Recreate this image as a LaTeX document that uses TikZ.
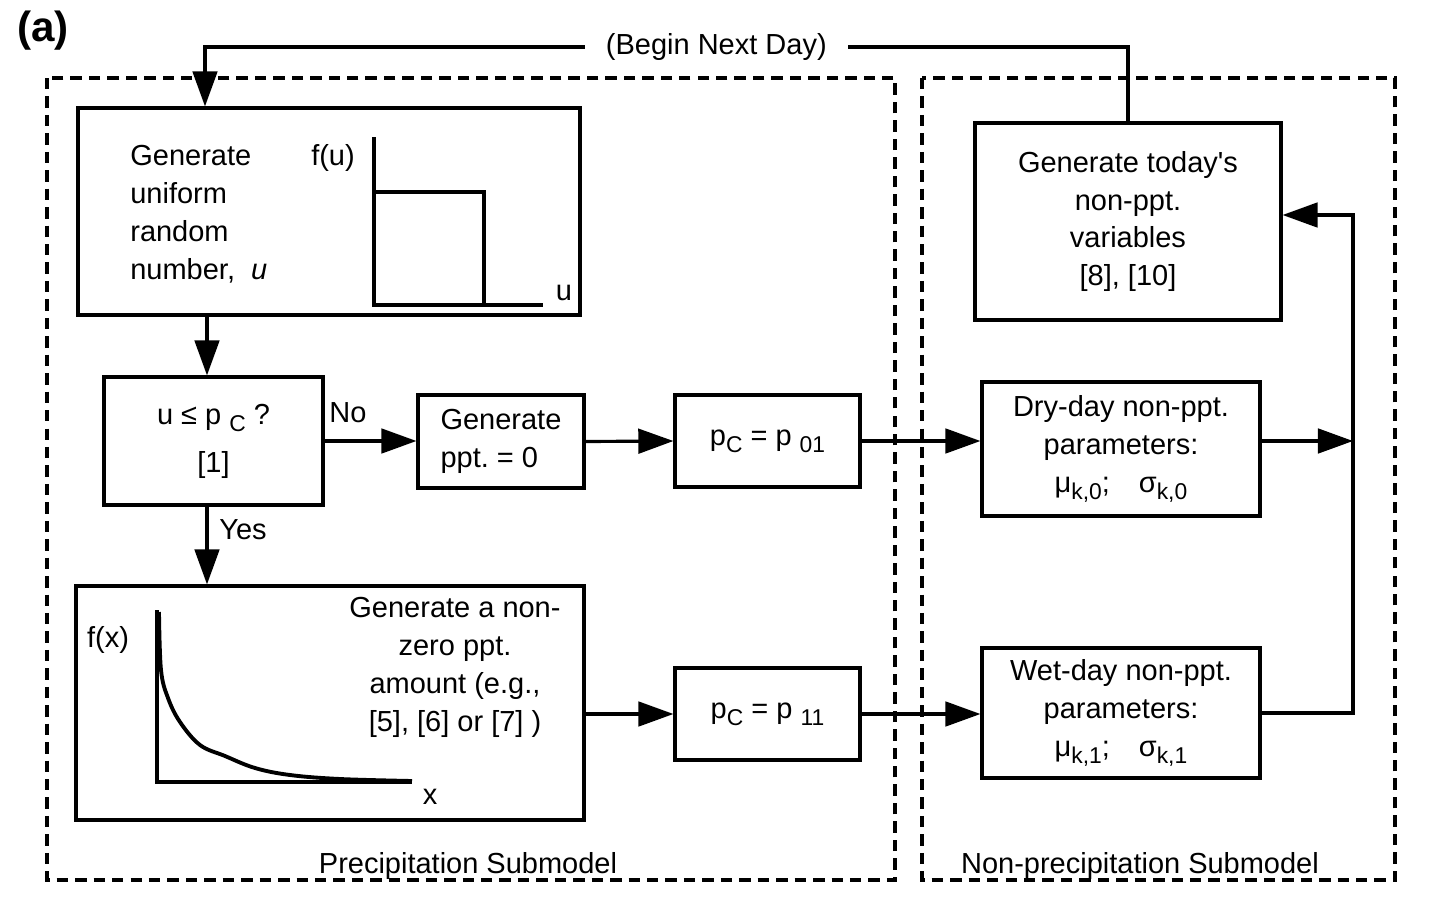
\documentclass[tikz,border=0pt]{standalone}
\usepackage{fontspec}
\setmainfont{Liberation Sans}
\usetikzlibrary{arrows.meta}
\newcommand{\fsz}{\fontsize{16.5pt}{21.6pt}\selectfont}
\newcommand{\lowidx}[1]{\raisebox{-4pt}{\fontsize{13pt}{13pt}\selectfont #1}}
\tikzset{
  blk/.style={draw, line width=1.8pt, inner sep=0pt, align=center, font=\fsz},
  lbl/.style={inner sep=0pt, font=\fsz},
  submodel/.style={line width=1.8pt, dash pattern=on 6.5pt off 4pt},
  link/.style={line width=1.8pt},
  flow/.style={line width=1.8pt, -{Triangle[length=20pt,width=14pt]}},
}
\begin{document}
\begin{tikzpicture}[x=0.02cm, y=-0.02cm]
  \useasboundingbox (0,0) rectangle (1438,903);
  % submodel frames
  \draw[submodel] (47,78) rectangle (895,880);
  \draw[submodel] (922,78) rectangle (1395,880);
  \node[lbl, anchor=base] (ptitle) at (468,873) {Precipitation Submodel};
  \node[lbl, anchor=base] (ntitle) at (1140,873) {Non-precipitation Submodel};
  \node[lbl, font=\bfseries\fontsize{24pt}{24pt}\selectfont] (tag) at (43,31) {(a)};
  % precipitation side
  \node[blk, minimum width=10.04cm, minimum height=4.14cm] (unif) at (329,211.5) {};
  \node[lbl, align=left, anchor=west] (uniftxt) at (130,214) {Generate\\uniform\\random\\number,\ \ \textit{u}};
  \node[lbl] (fu) at (333,158) {f(u)};
  \node[lbl] (uax) at (564,293) {u};
  \draw[link] (374,137) -- (374,305) -- (543,305);
  \draw[link] (374,192) -- (484,192) -- (484,305);
  \node[blk, minimum width=4.38cm, minimum height=2.56cm] (test) at (213.5,441)
    {u ≤ p \lowidx{C} ?\\[0.2cm]{[1]}};
  \node[blk, align=left, minimum width=3.32cm, minimum height=1.86cm] (zero) at (501,441.5)
    {Generate\\ppt.\ = 0};
  \node[blk, minimum width=3.7cm, minimum height=1.84cm] (pdry) at (767.5,441)
    {p\lowidx{C} = p \lowidx{01}};
  \node[blk, minimum width=10.16cm, minimum height=4.68cm] (amt) at (330,703) {};
  \node[lbl, align=center] (amttxt) at (455,667) {Generate a non-\\zero ppt.\\amount (e.g.,\\{}[5], [6] or [7] )};
  \node[lbl] (fx) at (108,640) {f(x)};
  \node[lbl] (xax) at (430,797) {x};
  \draw[link] (157,610) -- (157,782) -- (412,782);
  \draw[line width=2.2pt, line join=round] plot[smooth, tension=0.6] coordinates {
    (159,612) (161,670) (168,698) (180,722) (200,745) (225,756) (255,768)
    (290,775) (340,779) (412,781)};
  \node[blk, minimum width=3.7cm, minimum height=1.84cm] (pwet) at (767.5,714)
    {p\lowidx{C} = p \lowidx{11}};
  % non-precipitation side
  \node[blk, minimum width=6.12cm, minimum height=3.94cm] (today) at (1128,221.5)
    {Generate today\textquotesingle s\\non-ppt.\\variables\\{}[8], [10]};
  \node[blk, minimum width=5.56cm, minimum height=2.68cm] (drypar) at (1121,449)
    {Dry-day non-ppt.\\parameters:\\μ\lowidx{k,0};\quad σ\lowidx{k,0}};
  \node[blk, minimum width=5.56cm, minimum height=2.6cm] (wetpar) at (1121,713)
    {Wet-day non-ppt.\\parameters:\\μ\lowidx{k,1};\quad σ\lowidx{k,1}};
  % connectors
  \coordinate (spine) at (207,300);
  \coordinate (loop) at (205,47);
  \coordinate (join) at (1353,215);
  \node[lbl] (no) at (348,413) {No};
  \node[lbl] (yes) at (243,530) {Yes};
  \draw[flow] (today.north) -- (today.north |- loop)
    -- node[lbl, pos=0.446, fill=white, inner xsep=12pt] (nextday) {(Begin Next Day)} (loop)
    -- (unif.north -| loop);
  \draw[flow] (unif.south -| spine) -- (test.north -| spine);
  \draw[flow] (test.south -| spine) -- (amt.north -| spine);
  \draw[flow] (test.east) -- (test.east -| zero.west);
  \draw[flow] (zero.east) -- (pdry.west);
  \draw[flow] (pdry.east) -- (pdry.east -| drypar.west);
  \draw[flow] (amt.east |- pwet.west) -- (pwet.west);
  \draw[flow] (pwet.east) -- (pwet.east -| wetpar.west);
  \draw[flow] (pdry.east -| drypar.east) -- (pdry.east -| join);
  \draw[flow] (wetpar.east) -| (join) -- (join -| today.east);
\end{tikzpicture}
\end{document}
